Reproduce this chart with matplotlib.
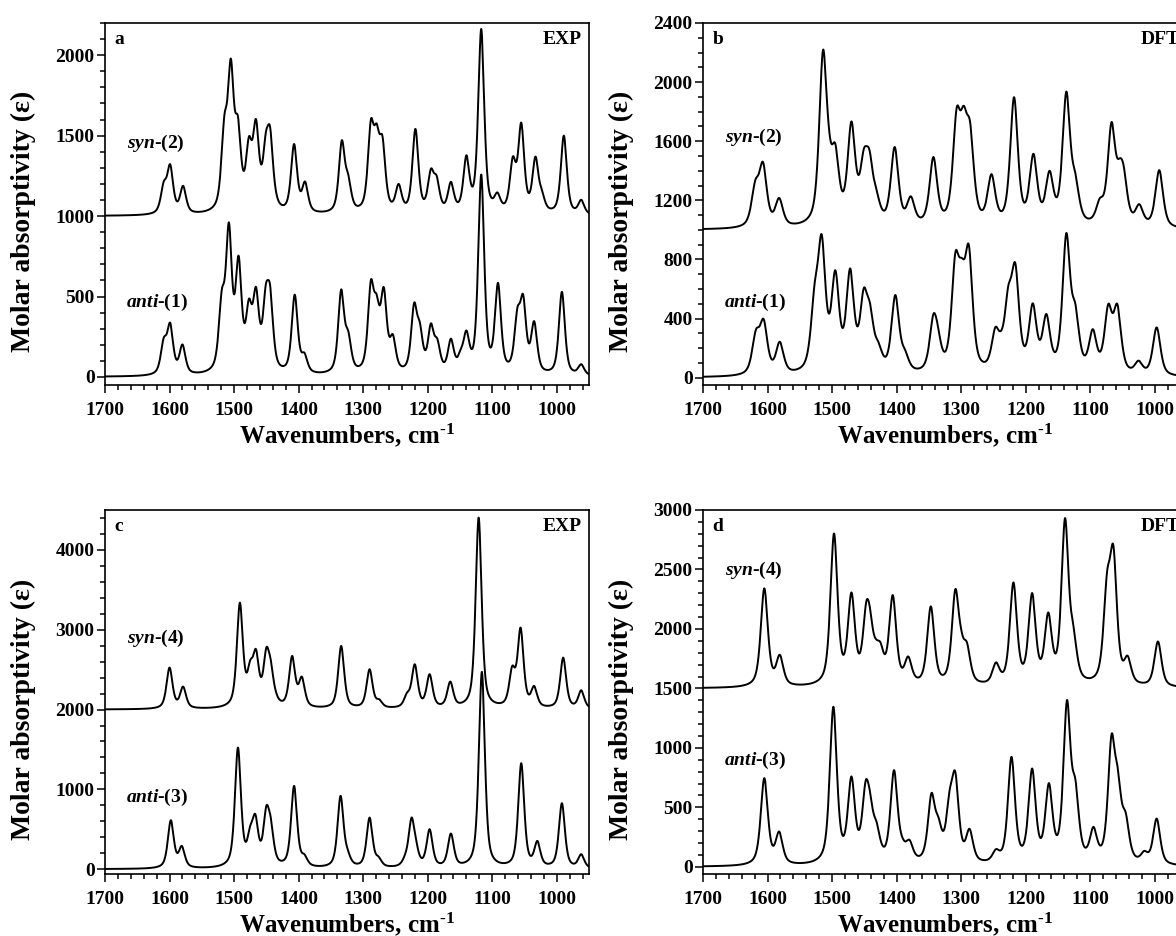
import numpy as np
import matplotlib
matplotlib.use("Agg")
import matplotlib.pyplot as plt
from matplotlib.ticker import MultipleLocator

plt.rcParams['font.family'] = ['Liberation Serif', 'DejaVu Serif']
plt.rcParams['font.weight'] = 'bold'
plt.rcParams['mathtext.fontset'] = 'custom'
plt.rcParams['mathtext.rm'] = 'Liberation Serif:bold'
plt.rcParams['mathtext.it'] = 'Liberation Serif:italic:bold'
plt.rcParams['mathtext.bf'] = 'Liberation Serif:bold'
plt.rcParams['mathtext.default'] = 'rm'

# ---------------- data (band positions cm-1, observed band heights above offset) ----
# panel a: EXP, syn-(2) offset 1000, anti-(1) offset 0
a_syn_pos = [1609, 1599, 1579, 1515, 1505, 1494, 1477, 1466, 1451, 1444, 1435, 1407, 1390,
             1333, 1323, 1288, 1279, 1270, 1245, 1219, 1195, 1186, 1164, 1140, 1117, 1092,
             1068, 1055, 1033, 1023, 989, 962]
a_syn_h = [215, 322, 188, 628, 979, 620, 494, 603, 514, 550, 153, 448, 215,
           471, 258, 600, 575, 496, 200, 542, 294, 250, 213, 378, 1163, 147,
           370, 581, 370, 163, 500, 101]
a_anti_pos = [1609, 1599, 1580, 1519, 1508, 1493, 1477, 1466, 1451, 1444, 1437, 1406, 1391,
              1334, 1323, 1288, 1279, 1268, 1254, 1221, 1212, 1195, 1185, 1164, 1149, 1140,
              1117, 1091, 1061, 1052, 1035, 992, 962]
a_anti_h = [244, 337, 202, 543, 961, 754, 486, 560, 568, 579, 171, 512, 151,
            544, 285, 602, 513, 558, 265, 461, 337, 333, 237, 238, 170, 289,
            1258, 585, 430, 512, 347, 529, 79]

# panel b: DFT, syn-(2) offset 1000, anti-(1) offset 0
b_syn_pos = [1619, 1607, 1582, 1514, 1505, 1495, 1470, 1451, 1442, 1431, 1403, 1378, 1343,
             1307, 1296, 1286, 1253, 1218, 1188, 1163, 1137, 1123, 1085, 1067, 1054, 1048,
             1024, 993]
b_syn_h = [336, 459, 216, 1218, 696, 583, 734, 545, 540, 268, 561, 227, 493,
           824, 840, 727, 377, 898, 515, 400, 936, 384, 215, 729, 485, 430,
           174, 404]
b_anti_pos = [1618, 1606, 1581, 1527, 1516, 1495, 1472, 1451, 1441, 1428, 1402, 1387, 1343,
              1336, 1309, 1299, 1288, 1247, 1238, 1227, 1216, 1189, 1168, 1137, 1123, 1096,
              1072, 1058, 1025, 997]
b_anti_h = [325, 396, 243, 640, 968, 727, 739, 604, 500, 240, 559, 190, 430,
            350, 846, 810, 897, 341, 318, 620, 774, 503, 431, 978, 500, 328,
            498, 498, 115, 340]

# panel c: EXP, syn-(4) offset 2000, anti-(3) offset 0
c_syn_pos = [1600, 1579, 1491, 1475, 1466, 1450, 1443, 1435, 1410, 1395, 1334, 1290, 1275,
             1232, 1220, 1197, 1165, 1121, 1069, 1056, 1035, 990, 962]
c_syn_h = [526, 288, 1340, 618, 756, 777, 618, 221, 672, 413, 797, 505, 129,
           213, 568, 443, 351, 2405, 547, 1027, 296, 651, 242]
c_anti_pos = [1598, 1581, 1494, 1475, 1467, 1450, 1443, 1436, 1407, 1391, 1335, 1324, 1290,
              1276, 1235, 1225, 1218, 1197, 1164, 1116, 1055, 1030, 992, 962]
c_anti_h = [614, 292, 1524, 543, 689, 793, 647, 221, 1044, 188, 919, 251, 647,
            159, 188, 647, 376, 501, 447, 2472, 1328, 355, 827, 188]

# panel d: DFT, syn-(4) offset 1500, anti-(3) offset 0
d_syn_pos = [1605, 1581, 1497, 1470, 1447, 1441, 1432, 1425, 1406, 1382, 1347, 1309, 1300,
             1291, 1246, 1219, 1190, 1165, 1139, 1126, 1074, 1064, 1042, 995]
d_syn_h = [841, 283, 1303, 807, 729, 667, 415, 387, 785, 269, 690, 835, 499,
           387, 219, 891, 802, 639, 1432, 527, 975, 1200, 275, 395]
d_anti_pos = [1605, 1582, 1498, 1470, 1448, 1441, 1431, 1404, 1391, 1380, 1346, 1335, 1318,
              1309, 1287, 1246, 1222, 1190, 1164, 1136, 1123, 1095, 1067, 1057, 1045, 1016, 997]
d_anti_h = [746, 297, 1346, 760, 723, 625, 378, 813, 247, 227, 620, 415, 639,
            799, 320, 149, 925, 827, 704, 1402, 737, 336, 1113, 821, 457, 135, 406]

offsets = {'a': 1000, 'b': 1000, 'c': 2000, 'd': 1500}
x_ticks = [1700, 1600, 1500, 1400, 1300, 1200, 1100, 1000]

# ---------------- helpers ----------------------------------------------------------
ETA = 0.6  # Lorentzian fraction of the band shape


def band(x, c, w):
    d2 = ((x - c) / w) ** 2
    return ETA / (1.0 + d2) + (1 - ETA) * np.exp(-np.log(2) * d2)


def spectrum(x, pos, h, w):
    pos = np.asarray(pos, float)
    h = np.asarray(h, float)
    active = np.ones(len(pos), bool)
    amp = np.zeros(len(pos))
    for _ in range(len(pos)):
        idx = np.where(active)[0]
        A = band(pos[:, None], pos[None, idx], w)
        sol, *_ = np.linalg.lstsq(A, h, rcond=None)
        if (sol >= 0).all():
            amp[:] = 0
            amp[idx] = sol
            break
        active[idx[np.argmin(sol)]] = False
    return (amp[None, :] * band(x[:, None], pos[None, :], w)).sum(axis=1)


x = np.linspace(940, 1710, 4000)

W, H = 1176, 936
fig = plt.figure(figsize=(W / 100, H / 100), dpi=100)


def make_ax(left_px, top_px, bot_px):
    return fig.add_axes([left_px / W, 1 - bot_px / H, 484 / W, (bot_px - top_px) / H])


panels = [
    ('a', make_ax(105, 23, 385), a_syn_pos, a_syn_h, a_anti_pos, a_anti_h, 5.5,
     (-50, 2200), 500, 100, 'EXP', 'syn', '(2)', 'anti', '(1)', 1453, 466),
    ('b', make_ax(703, 23, 385), b_syn_pos, b_syn_h, b_anti_pos, b_anti_h, 7.0,
     (-50, 2400), 400, 100, 'DFT', 'syn', '(2)', 'anti', '(1)', 1627, 508),
    ('c', make_ax(105, 510, 874), c_syn_pos, c_syn_h, c_anti_pos, c_anti_h, 5.5,
     (-60, 4500), 1000, 200, 'EXP', 'syn', '(4)', 'anti', '(3)', 2885, 895),
    ('d', make_ax(703, 510, 874), d_syn_pos, d_syn_h, d_anti_pos, d_anti_h, 6.5,
     (-60, 3000), 500, 100, 'DFT', 'syn', '(4)', 'anti', '(3)', 2490, 891),
]

for (lab, ax, sp, sh, ap, ah, w, ylim, maj, mnr, method,
     s1, s2, a1, a2, ys, ya) in panels:
    off = offsets[lab]
    ax.plot(x, spectrum(x, sp, sh, w) + off, color='black', lw=1.4)
    ax.plot(x, spectrum(x, ap, ah, w), color='black', lw=1.4)
    ax.set_xlim(1700, 950)
    ax.set_ylim(*ylim)
    ax.set_xticks(x_ticks)
    ax.xaxis.set_minor_locator(MultipleLocator(20))
    ax.yaxis.set_major_locator(MultipleLocator(maj))
    ax.yaxis.set_minor_locator(MultipleLocator(mnr))
    ax.tick_params(which='both', direction='out', top=False, right=False, width=1.1)
    ax.tick_params(which='major', length=6)
    ax.tick_params(which='minor', length=3.5)
    ax.tick_params(axis='x', labelsize=14, pad=6)
    ax.tick_params(axis='y', labelsize=14, pad=1.5)
    for t in ax.get_xticklabels() + ax.get_yticklabels():
        t.set_fontweight('bold')
    for s in ax.spines.values():
        s.set_linewidth(1.2)
    ax.set_xlabel(r'Wavenumbers, cm$^{\text{-}1}$', fontsize=18, fontweight='bold',
                  labelpad=2)
    ax.set_ylabel('Molar absorptivity (\u03b5)', fontsize=20, fontweight='bold')
    ax.yaxis.set_label_coords(-0.143, 0.453)
    ax.text(0.02, 1 - 8 / 362, lab, transform=ax.transAxes, ha='left', va='top',
            fontsize=14, fontweight='bold')
    ax.text(1 - 7 / 484, 1 - 8 / 362, method, transform=ax.transAxes, ha='right',
            va='top', fontsize=14, fontweight='bold')
    ax.text(1666, ys, r'$\mathit{' + s1 + r'}$-' + s2, ha='left', va='center',
            fontsize=14, fontweight='bold')
    ax.text(1668, ya, r'$\mathit{' + a1 + r'}$-' + a2, ha='left', va='center',
            fontsize=14, fontweight='bold')

fig.savefig('out.png', dpi=100)
